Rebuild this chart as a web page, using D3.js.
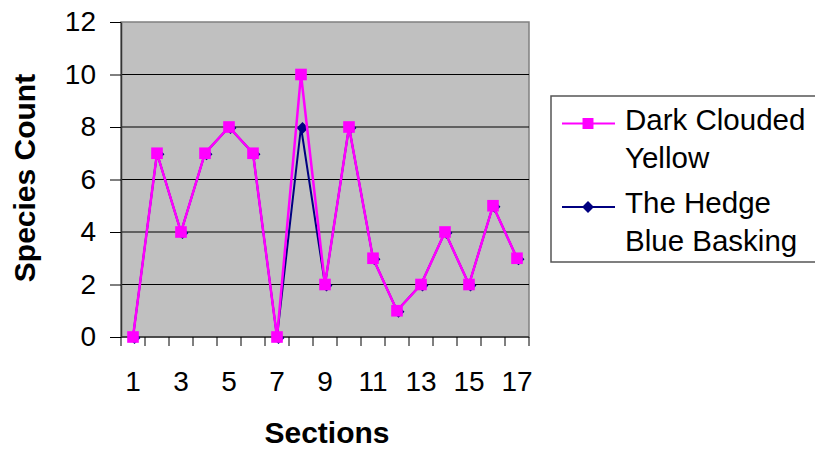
<!DOCTYPE html>
<html>
<head>
<meta charset="utf-8">
<script src="https://cdn.jsdelivr.net/npm/d3@7"></script>
<style>
  html, body { margin: 0; padding: 0; background: #fff; }
  svg { display: block; font-family: "Liberation Sans", Arial, sans-serif; }
</style>
</head>
<body>
<svg id="chart" width="815" height="450"></svg>
<script>
const sections = [1,2,3,4,5,6,7,8,9,10,11,12,13,14,15,16,17];
const darkCloudedYellow = [0,7,4,7,8,7,0,10,2,8,3,1,2,4,2,5,3];
const hedgeBlueBasking  = [0,7,4,7,8,7,0,8,2,8,3,1,2,4,2,5,3];
const yTicks = [0,2,4,6,8,10,12];
const xTickLabels = [1,3,5,7,9,11,13,15,17];
const seriesNames = [["Dark Clouded","Yellow"],["The Hedge","Blue Basking"]];
const seriesColors = ["#FF00FF","#000080"];

const svg = d3.select("#chart");
const plot = {left:121, right:529, top:22, bottom:337};

const x = d3.scaleBand().domain(sections).range([plot.left, plot.right]).padding(0);
const cx = d => x(d) + x.bandwidth()/2;
const y = d3.scaleLinear().domain([0,12]).range([plot.bottom, plot.top]);

// plot background
svg.append("rect")
  .attr("x", plot.left).attr("y", plot.top)
  .attr("width", plot.right - plot.left).attr("height", plot.bottom - plot.top)
  .attr("fill", "#C0C0C0").attr("stroke", "#808080").attr("stroke-width", 1.5);

// gridlines
svg.append("g").selectAll("line").data(yTicks.filter(t => t > 0 && t < 12)).join("line")
  .attr("x1", plot.left).attr("x2", plot.right)
  .attr("y1", d => y(d)).attr("y2", d => y(d))
  .attr("stroke", "#000").attr("stroke-width", 1);

// y axis
const yAxis = d3.axisLeft(y).tickValues(yTicks).tickSize(11).tickPadding(14).tickSizeOuter(0);
const gy = svg.append("g").attr("transform", `translate(${plot.left},0)`).call(yAxis);
gy.select(".domain").attr("stroke", "#333").attr("stroke-width", 1.5);
gy.selectAll(".tick line").attr("stroke", "#000").attr("stroke-width", 1);
gy.selectAll(".tick text").attr("font-size", 28).attr("fill", "#000")
  .attr("font-family", "Liberation Sans, Arial, sans-serif");

// x axis: ticks at category boundaries, labels at odd categories
const boundaries = d3.range(0, sections.length + 1);
const xb = d3.scaleLinear().domain([0, sections.length]).range([plot.left, plot.right]);
const gx = svg.append("g");
gx.append("line").attr("x1", plot.left).attr("x2", plot.right)
  .attr("y1", plot.bottom).attr("y2", plot.bottom)
  .attr("stroke", "#333").attr("stroke-width", 1.5);
gx.selectAll("line.tk").data(boundaries).join("line").attr("class","tk")
  .attr("x1", d => xb(d)).attr("x2", d => xb(d))
  .attr("y1", plot.bottom).attr("y2", plot.bottom + 9)
  .attr("stroke", "#000").attr("stroke-width", 1);
gx.selectAll("text").data(xTickLabels).join("text")
  .attr("x", d => cx(d)).attr("y", 391)
  .attr("text-anchor", "middle").attr("font-size", 28).attr("fill", "#000")
  .text(d => d);

// series
const series = [
  {values: hedgeBlueBasking, color: seriesColors[1], shape: "diamond", mdx: 1.5, mdy: 1, lw: 2},
  {values: darkCloudedYellow, color: seriesColors[0], shape: "square", mdx: 0, mdy: 0, lw: 2.5}
];
const line = d3.line().x((d,i) => cx(sections[i])).y(d => y(d));
series.forEach(s => {
  const g = svg.append("g");
  g.append("path").datum(s.values).attr("d", line)
    .attr("fill", "none").attr("stroke", s.color).attr("stroke-width", s.lw);
  const sym = s.shape === "square" ? d3.symbol(d3.symbolSquare, 135) : d3.symbol(d3.symbolDiamond2 || d3.symbolDiamond, 90);
  g.selectAll("path.m").data(s.values).join("path").attr("class","m")
    .attr("transform", (d,i) => `translate(${cx(sections[i]) + s.mdx},${y(d) + s.mdy})`)
    .attr("d", sym).attr("fill", s.color);
});

// axis titles
svg.append("text").attr("x", 327).attr("y", 443)
  .attr("text-anchor", "middle").attr("font-size", 30).attr("font-weight", "bold")
  .text("Sections");
svg.append("text").attr("transform", "translate(35,178) rotate(-90)")
  .attr("text-anchor", "middle").attr("font-size", 30).attr("font-weight", "bold")
  .text("Species Count");

// legend
const lg = svg.append("g");
lg.append("rect").attr("x", 551).attr("y", 96).attr("width", 290).attr("height", 166)
  .attr("fill", "#fff").attr("stroke", "#555").attr("stroke-width", 1.5);
const legendItems = [
  {names: seriesNames[0], color: seriesColors[0], shape: "square", ly: 123.5, tb: 130},
  {names: seriesNames[1], color: seriesColors[1], shape: "diamond", ly: 207, tb: 212.5}
];
legendItems.forEach(it => {
  lg.append("line").attr("x1", 562).attr("x2", 615).attr("y1", it.ly).attr("y2", it.ly)
    .attr("stroke", it.color).attr("stroke-width", 2);
  const sym = it.shape === "square" ? d3.symbol(d3.symbolSquare, 120) : d3.symbol(d3.symbolDiamond2 || d3.symbolDiamond, 90);
  lg.append("path").attr("transform", `translate(588,${it.ly})`).attr("d", sym).attr("fill", it.color);
  it.names.forEach((t, k) => {
    lg.append("text").attr("x", 625).attr("y", it.tb + k * 38)
      .attr("font-size", 29.5).attr("fill", "#000").text(t);
  });
});
</script>
</body>
</html>
